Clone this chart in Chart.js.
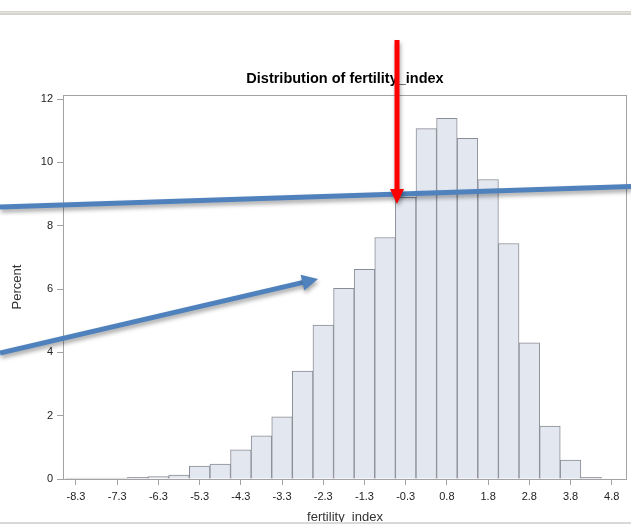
<!DOCTYPE html>
<html><head><meta charset="utf-8">
<script src="https://cdn.jsdelivr.net/npm/chart.js@4/dist/chart.umd.min.js"></script>
<style>html,body{margin:0;padding:0;background:#fff;} canvas{display:block;}</style>
</head><body>
<canvas id="c" width="631" height="525"></canvas>
<script>
// ---- data ----
const binMidpoints = [-8.25,-7.75,-7.25,-6.75,-6.25,-5.75,-5.25,-4.75,-4.25,-3.75,-3.25,-2.75,-2.25,-1.75,-1.25,-0.75,-0.25,0.25,0.75,1.25,1.75,2.25,2.75,3.25,3.75,4.25];
const percents = [0.03,0.03,0.03,0.05,0.08,0.12,0.41,0.47,0.92,1.36,1.96,3.41,4.86,6.02,6.62,7.63,8.9,11.07,11.39,10.76,9.46,7.44,4.30,1.67,0.60,0.05];
const xTickValues = [-8.25,-7.25,-6.25,-5.25,-4.25,-3.25,-2.25,-1.25,-0.25,0.75,1.75,2.75,3.75,4.75];
const xTickLabels = ["-8.3","-7.3","-6.3","-5.3","-4.3","-3.3","-2.3","-1.3","-0.3","0.8","1.8","2.8","3.8","4.8"];
const yTickValues = [0,2,4,6,8,10,12];
const yTickLabels = ["0","2","4","6","8","10","12"];
const titleText = "Distribution of fertility_index";
const xTitle = "fertility_index";
const yTitle = "Percent";

// ---- styling / layout ----
const FONT = "'Liberation Sans', Arial, sans-serif";
const frameColor = '#a3a3a3';

const deco = {
  id: 'deco',
  beforeDraw(chart) {
    const ctx = chart.ctx;
    ctx.save();
    ctx.fillStyle = '#fff';
    ctx.fillRect(0, 0, chart.width, chart.height);
    ctx.restore();
  },
  afterDatasetsDraw(chart) {
    const {ctx, chartArea: a} = chart;
    ctx.save();
    ctx.strokeStyle = frameColor;
    ctx.lineWidth = 1;
    ctx.strokeRect(Math.round(a.left) + 0.5, Math.round(a.top) + 0.5,
                   Math.round(a.right - a.left) - 1, Math.round(a.bottom - a.top));
    ctx.restore();
  },
  afterDraw(chart) {
    const ctx = chart.ctx;
    const W = chart.width;
    ctx.save();
    // window rules
    ctx.fillStyle = '#d5d3cb';
    ctx.fillRect(0, 11, W, 4);
    ctx.fillStyle = '#e6e5e0';
    ctx.fillRect(0, 12, W, 1);
    ctx.fillStyle = '#d9d9d9';
    ctx.fillRect(0, 522, W, 2);

    const shadow = () => {
      ctx.shadowColor = 'rgba(0,0,0,0.35)';
      ctx.shadowBlur = 4;
      ctx.shadowOffsetX = 1;
      ctx.shadowOffsetY = 3;
    };
    const arrow = (x0, y0, x1, y1, color, width, headLen, headHalf) => {
      const dx = x1 - x0, dy = y1 - y0, L = Math.hypot(dx, dy);
      const ux = dx / L, uy = dy / L, nx = -uy, ny = ux;
      const bx = x1 - ux * headLen, by = y1 - uy * headLen;
      ctx.strokeStyle = color; ctx.fillStyle = color; ctx.lineWidth = width;
      ctx.beginPath(); ctx.moveTo(x0, y0); ctx.lineTo(bx + ux * 2, by + uy * 2); ctx.stroke();
      ctx.beginPath();
      ctx.moveTo(x1, y1);
      ctx.lineTo(bx + nx * headHalf, by + ny * headHalf);
      ctx.lineTo(bx - nx * headHalf, by - ny * headHalf);
      ctx.closePath(); ctx.fill();
    };
    // blue horizontal line
    shadow();
    ctx.strokeStyle = '#4f81bd';
    ctx.lineWidth = 5;
    ctx.beginPath(); ctx.moveTo(0, 207); ctx.lineTo(W, 186.5); ctx.stroke();
    // blue arrow
    arrow(0, 353, 318, 279, '#4f81bd', 5, 16, 8);
    // red arrow
    arrow(397, 40, 397, 204, '#ff0000', 5, 15, 7);
    ctx.restore();
  }
};

new Chart(document.getElementById('c'), {
  type: 'bar',
  data: {
    datasets: [{
      data: binMidpoints.map((x, i) => ({x: x, y: percents[i]})),
      backgroundColor: '#e3e7f0',
      borderColor: '#8a8d96',
      borderWidth: 1,
      barPercentage: 1,
      categoryPercentage: 1
    }]
  },
  options: {
    responsive: false,
    animation: false,
    events: [],
    layout: {padding: {left: 0, right: 4, top: 0, bottom: 0}},
    plugins: {
      legend: {display: false},
      tooltip: {enabled: false},
      title: {
        display: true, fullSize: false, text: titleText, color: '#000',
        font: {family: FONT, size: 14.5, weight: 'bold'},
        padding: {top: 70.3, bottom: 7.3}
      }
    },
    scales: {
      x: {
        type: 'linear', min: -8.565, max: 5.12, offset: false,
        afterBuildTicks: s => { s.ticks = xTickValues.map(v => ({value: v})); },
        afterFit: s => { s.height = 46; },
        ticks: {
          autoSkip: false, maxRotation: 0, padding: 5, color: '#222',
          font: {family: FONT, size: 11},
          callback: (v, i) => xTickLabels[i]
        },
        grid: {offset: false, drawOnChartArea: false, drawTicks: true, tickLength: 6, color: frameColor, tickColor: frameColor},
        border: {display: false},
        title: {display: true, text: xTitle, color: '#333', font: {family: FONT, size: 13}, padding: {top: 0, bottom: 0}}
      },
      y: {
        type: 'linear', min: 0, max: 12.13,
        afterBuildTicks: s => { s.ticks = yTickValues.map(v => ({value: v})); },
        afterFit: s => { s.width = 63; },
        ticks: {
          padding: 4, color: '#222', font: {family: FONT, size: 11},
          callback: (v, i) => yTickLabels[i]
        },
        grid: {drawOnChartArea: false, drawTicks: true, tickLength: 6, color: frameColor, tickColor: frameColor},
        border: {display: false},
        title: {display: true, text: yTitle, color: '#333', font: {family: FONT, size: 13}, padding: {top: 10, bottom: 0}}
      }
    }
  },
  plugins: [deco]
});
</script>
</body></html>
